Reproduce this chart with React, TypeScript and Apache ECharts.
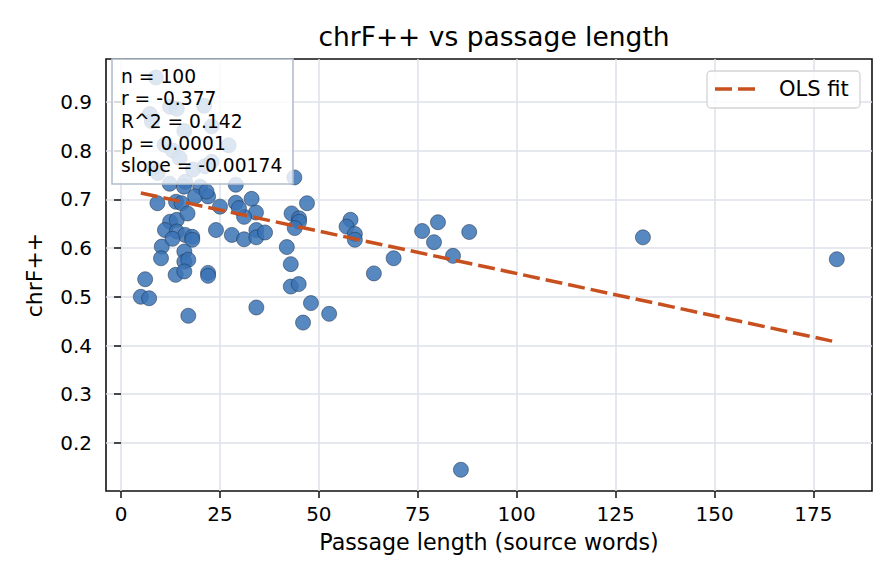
import React, { useEffect, useRef } from "react";
import * as echarts from "echarts";

const passageLength: number[] = [
  8.8, 7.3, 7.8, 12.4, 14.1, 21.0, 16.0, 22.9, 11.0, 13.1,
  14.8, 27.2, 8.1, 9.3, 18.2, 21.2, 22.9, 12.3, 16.2, 43.8,
  29.0, 20.0, 15.9, 9.2, 12.4, 14.1, 11.1, 14.1, 16.2, 18.0,
  18.0, 10.3, 10.1, 16.0, 16.0, 17.0, 13.8, 16.0, 6.1, 5.0,
  7.1, 17.0, 22.0, 22.0, 34.2, 24.0, 28.0, 31.1, 34.2, 34.2,
  36.4, 41.9, 42.9, 42.9, 44.9, 48.0, 46.0, 52.6, 47.0, 43.1,
  45.0, 45.0, 43.9, 29.0, 33.0, 34.1, 31.1, 29.8, 25.0, 22.0,
  18.7, 13.9, 15.3, 16.8, 58.0, 57.0, 59.1, 59.1, 63.9, 68.9,
  76.1, 80.1, 79.1, 83.9, 88.0, 131.9, 180.9, 85.9, 21.6, 13.0,
];
const chrfScore: number[] = [
  0.950, 0.875, 0.860, 0.890, 0.886, 0.892, 0.840, 0.850, 0.812, 0.800,
  0.785, 0.811, 0.764, 0.754, 0.761, 0.768, 0.777, 0.732, 0.736, 0.745,
  0.730, 0.726, 0.726, 0.692, 0.654, 0.658, 0.637, 0.634, 0.627, 0.623,
  0.617, 0.603, 0.579, 0.593, 0.572, 0.576, 0.545, 0.552, 0.536, 0.500,
  0.497, 0.461, 0.549, 0.543, 0.478, 0.637, 0.627, 0.618, 0.637, 0.622,
  0.632, 0.602, 0.567, 0.521, 0.526, 0.487, 0.447, 0.465, 0.692, 0.671,
  0.661, 0.654, 0.641, 0.693, 0.701, 0.673, 0.664, 0.682, 0.685, 0.706,
  0.706, 0.695, 0.692, 0.671, 0.658, 0.644, 0.629, 0.617, 0.548, 0.579,
  0.635, 0.653, 0.612, 0.584, 0.633, 0.622, 0.577, 0.145, 0.716, 0.619,
];
const fitX: number[] = [5.0, 180.9];
const fitY: number[] = [0.713, 0.407];
const xTicks: number[] = [0, 25, 50, 75, 100, 125, 150, 175];
const yTicks: number[] = [0.2, 0.3, 0.4, 0.5, 0.6, 0.7, 0.8, 0.9];
const statsLines: string[] = [
  "n = 100",
  "r = -0.377",
  "R^2 = 0.142",
  "p = 0.0001",
  "slope = -0.00174",
];
const titleText = "chrF++ vs passage length";
const xName = "Passage length (source words)";
const yName = "chrF++";
const legendName = "OLS fit";

const FONT = "DejaVu Sans";
const LINE_COLOR = "#c8501e";

export default function App() {
  const ref = useRef<HTMLDivElement>(null);
  useEffect(() => {
    if (!ref.current) return;
    const chart = echarts.init(ref.current, undefined, { renderer: "svg" });
    const points = passageLength.map((x, i) => [x, chrfScore[i]]);
    const fit = fitX.map((x, i) => [x, fitY[i]]);
    chart.setOption({
      animation: false,
      textStyle: { fontFamily: FONT },
      title: {
        text: titleText,
        left: 489,
        top: 18,
        textAlign: "center",
        textStyle: { fontFamily: FONT, fontSize: 26.5, fontWeight: "normal", color: "#000" },
      },
      grid: {
        left: 106,
        right: 24,
        top: 59,
        bottom: 93,
        show: true,
        borderColor: "#111",
        borderWidth: 1.6,
        backgroundColor: "transparent",
      },
      xAxis: {
        type: "value",
        min: -3.8,
        max: 189.8,
        name: xName,
        nameLocation: "middle",
        nameGap: 40,
        nameTextStyle: { fontFamily: FONT, fontSize: 22.2, color: "#000" },
        axisLine: { show: false },
        axisTick: { show: true, length: 7, inside: false, customValues: xTicks, lineStyle: { color: "#111", width: 1.5 } },
        axisLabel: { customValues: xTicks, margin: 13, fontFamily: FONT, fontSize: 20, color: "#000" },
        splitLine: { show: true, lineStyle: { color: "#dde2ea", width: 1.5 } },
      },
      yAxis: {
        type: "value",
        min: 0.1014,
        max: 0.988,
        name: yName,
        nameLocation: "middle",
        nameGap: 61,
        nameTextStyle: { fontFamily: FONT, fontSize: 22, color: "#000" },
        axisLine: { show: false },
        axisTick: { show: true, length: 7, inside: false, customValues: yTicks, lineStyle: { color: "#111", width: 1.5 } },
        axisLabel: {
          customValues: yTicks,
          margin: 14,
          fontFamily: FONT,
          fontSize: 20,
          color: "#000",
          formatter: (v: number) => v.toFixed(1),
        },
        splitLine: { show: true, lineStyle: { color: "#dde2ea", width: 1.5 } },
      },
      series: [
        {
          type: "scatter",
          data: points,
          symbolSize: 15,
          itemStyle: { color: "#3a73b5", opacity: 0.85, borderColor: "#1c2c44", borderWidth: 0.6 },
          z: 2,
        },
        {
          type: "line",
          name: legendName,
          data: fit,
          showSymbol: false,
          symbol: "none",
          lineStyle: { color: LINE_COLOR, width: 3.5, type: [17, 6] },
          z: 3,
        },
      ],
      graphic: [
        {
          type: "rect",
          z: 100,
          zlevel: 1,
          shape: { x: 112, y: 59, width: 181, height: 125 },
          style: { fill: "rgba(255,255,255,0.8)", stroke: "#b2bdcc", lineWidth: 1.6 },
        },
        {
          type: "text",
          z: 101,
          zlevel: 1,
          x: 121,
          y: 65,
          style: {
            text: statsLines.join("\n"),
            font: `18.7px "${FONT}"`,
            fill: "#000",
            lineHeight: 22.4,
            verticalAlign: "top",
          },
        },
        {
          type: "rect",
          z: 100,
          zlevel: 1,
          shape: { x: 707, y: 71, width: 153, height: 37, r: 4 },
          style: { fill: "rgba(255,255,255,0.8)", stroke: "#d4d4d4", lineWidth: 1.3 },
        },
        {
          type: "line",
          z: 101,
          zlevel: 1,
          shape: { x1: 715, y1: 89, x2: 755, y2: 89 },
          style: { stroke: LINE_COLOR, lineWidth: 3.5, lineDash: [17, 6] },
        },
        {
          type: "text",
          z: 101,
          zlevel: 1,
          x: 779,
          y: 89,
          style: { text: legendName, font: `21px "${FONT}"`, fill: "#000", verticalAlign: "middle" },
        },
      ],
    });
    return () => chart.dispose();
  }, []);
  return <div ref={ref} style={{ width: 896, height: 584, position: "absolute", left: 0, top: 0 }} />;
}
